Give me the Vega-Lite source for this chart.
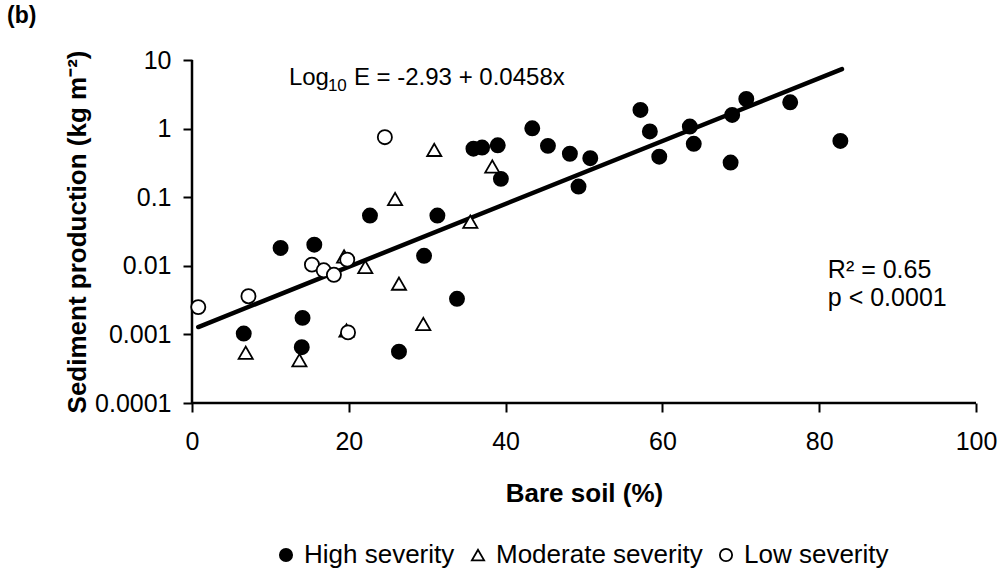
{
  "$schema": "https://vega.github.io/schema/vega-lite/v6.json",
  "autosize": "none",
  "width": 784,
  "height": 343,
  "padding": {"left": 192, "top": 60, "right": 30, "bottom": 166},
  "background": "white",
  "config": {
    "font": "Liberation Sans",
    "view": {"stroke": null},
    "axis": {
      "grid": false, "ticks": true,
      "tickColor": "black", "tickWidth": 2,
      "labelColor": "black", "titleColor": "black",
      "labelFont": "Liberation Sans", "titleFont": "Liberation Sans",
      "labelFlush": false, "labelOverlap": false
    }
  },
  "title": {"text": "(b)", "anchor": "start", "frame": "group", "fontSize": 23, "fontWeight": "bold", "color": "black", "dx": -185, "offset": 20},
  "datasets": {
    "points": [
      {"severity": "High severity", "bare": 6.6, "sed": 0.00103},
      {"severity": "High severity", "bare": 11.3, "sed": 0.0182},
      {"severity": "High severity", "bare": 15.6, "sed": 0.0203},
      {"severity": "High severity", "bare": 14.1, "sed": 0.00174},
      {"severity": "High severity", "bare": 14.0, "sed": 0.00065},
      {"severity": "High severity", "bare": 22.7, "sed": 0.054},
      {"severity": "High severity", "bare": 26.4, "sed": 0.00056},
      {"severity": "High severity", "bare": 29.6, "sed": 0.0140},
      {"severity": "High severity", "bare": 31.3, "sed": 0.054},
      {"severity": "High severity", "bare": 33.8, "sed": 0.0033},
      {"severity": "High severity", "bare": 35.9, "sed": 0.51},
      {"severity": "High severity", "bare": 37.0, "sed": 0.53},
      {"severity": "High severity", "bare": 39.0, "sed": 0.57},
      {"severity": "High severity", "bare": 39.4, "sed": 0.185},
      {"severity": "High severity", "bare": 43.4, "sed": 1.01},
      {"severity": "High severity", "bare": 45.4, "sed": 0.56},
      {"severity": "High severity", "bare": 48.2, "sed": 0.43},
      {"severity": "High severity", "bare": 49.3, "sed": 0.143},
      {"severity": "High severity", "bare": 50.8, "sed": 0.37},
      {"severity": "High severity", "bare": 57.2, "sed": 1.87},
      {"severity": "High severity", "bare": 58.4, "sed": 0.91},
      {"severity": "High severity", "bare": 59.6, "sed": 0.39},
      {"severity": "High severity", "bare": 63.5, "sed": 1.07},
      {"severity": "High severity", "bare": 64.0, "sed": 0.60},
      {"severity": "High severity", "bare": 68.7, "sed": 0.32},
      {"severity": "High severity", "bare": 68.9, "sed": 1.58},
      {"severity": "High severity", "bare": 70.7, "sed": 2.7},
      {"severity": "High severity", "bare": 76.3, "sed": 2.42},
      {"severity": "High severity", "bare": 82.7, "sed": 0.66},
      {"severity": "Moderate severity", "bare": 6.85, "sed": 0.00054},
      {"severity": "Moderate severity", "bare": 13.7, "sed": 0.00042},
      {"severity": "Moderate severity", "bare": 19.4, "sed": 0.0137},
      {"severity": "Moderate severity", "bare": 19.7, "sed": 0.00114},
      {"severity": "Moderate severity", "bare": 22.1, "sed": 0.0096},
      {"severity": "Moderate severity", "bare": 25.9, "sed": 0.094},
      {"severity": "Moderate severity", "bare": 26.4, "sed": 0.0055},
      {"severity": "Moderate severity", "bare": 29.5, "sed": 0.00142},
      {"severity": "Moderate severity", "bare": 30.9, "sed": 0.49},
      {"severity": "Moderate severity", "bare": 35.5, "sed": 0.044},
      {"severity": "Moderate severity", "bare": 38.3, "sed": 0.28},
      {"severity": "Low severity", "bare": 0.8, "sed": 0.0025},
      {"severity": "Low severity", "bare": 7.2, "sed": 0.0036},
      {"severity": "Low severity", "bare": 15.3, "sed": 0.0104},
      {"severity": "Low severity", "bare": 16.8, "sed": 0.0086},
      {"severity": "Low severity", "bare": 18.1, "sed": 0.0074},
      {"severity": "Low severity", "bare": 19.8, "sed": 0.0123},
      {"severity": "Low severity", "bare": 19.9, "sed": 0.00107},
      {"severity": "Low severity", "bare": 24.6, "sed": 0.75}
    ],
    "fit": [
      {"bare": 0.8, "sed": 0.00128},
      {"bare": 82.9, "sed": 7.36}
    ],
    "frame": [
      {"bare": 0, "bare2": 0, "sed": 0.0001, "sed2": 10},
      {"bare": 0, "bare2": 100, "sed": 0.0001, "sed2": 0.0001}
    ],
    "equation": [
      {"bare": 12.36, "sed": 4.33, "part": "log", "label": "Log"},
      {"bare": 12.36, "sed": 4.33, "part": "sub", "label": "10"},
      {"bare": 12.36, "sed": 4.33, "part": "rest", "label": "E = -2.93 + 0.0458x"}
    ],
    "stats": [
      {"bare": 81.1, "sed": 0.00671, "label": "R² = 0.65"},
      {"bare": 81.1, "sed": 0.00257, "label": "p < 0.0001"}
    ]
  },
  "layer": [
    {
      "data": {"name": "frame"},
      "mark": {"type": "rule", "color": "black", "strokeWidth": 2.5},
      "encoding": {
        "x": {"field": "bare", "type": "quantitative"},
        "x2": {"field": "bare2"},
        "y": {"field": "sed", "type": "quantitative"},
        "y2": {"field": "sed2"}
      }
    },
    {
      "data": {"name": "fit"},
      "mark": {"type": "line", "color": "black", "strokeWidth": 4.5, "strokeCap": "round"},
      "encoding": {
        "x": {"field": "bare", "type": "quantitative"},
        "y": {"field": "sed", "type": "quantitative"}
      }
    },
    {
      "data": {"name": "points"},
      "mark": {"type": "point", "filled": true, "stroke": "black", "strokeWidth": 1.8, "size": 200, "opacity": 1},
      "encoding": {
        "x": {
          "field": "bare", "type": "quantitative",
          "scale": {"domain": [0, 100], "nice": false, "zero": false},
          "axis": {"title": "Bare soil (%)", "values": [0, 20, 40, 60, 80, 100], "domain": false, "tickSize": 9, "labelFontSize": 25, "labelPadding": 17, "titleFontSize": 26, "titleFontWeight": "bold", "titlePadding": 26}
        },
        "y": {
          "field": "sed", "type": "quantitative",
          "scale": {"type": "log", "domain": [0.0001, 10], "nice": false},
          "axis": {"title": "Sediment production (kg m⁻²)", "values": [0.0001, 0.001, 0.01, 0.1, 1, 10], "format": "~g", "domain": false, "tickSize": 9, "labelFontSize": 25, "labelPadding": 12, "titleFontSize": 26, "titleFontWeight": "bold", "titlePadding": 4}
        },
        "shape": {
          "field": "severity", "type": "nominal",
          "scale": {"domain": ["High severity", "Moderate severity", "Low severity"], "range": ["circle", "triangle-up", "circle"]},
          "legend": {"title": null, "orient": "none", "direction": "horizontal", "legendX": 81, "legendY": 482, "labelFontSize": 26, "labelColor": "black", "labelLimit": 400, "symbolSize": 150, "symbolStrokeWidth": 1.8, "columnPadding": 10, "labelOffset": 5}
        },
        "fill": {
          "field": "severity", "type": "nominal",
          "scale": {"domain": ["High severity", "Moderate severity", "Low severity"], "range": ["black", "white", "white"]},
          "legend": {"title": null, "orient": "none", "direction": "horizontal", "legendX": 81, "legendY": 482, "labelFontSize": 26, "labelColor": "black", "labelLimit": 400, "symbolSize": 150, "symbolStrokeWidth": 1.8, "columnPadding": 10, "labelOffset": 5}
        }
      }
    },
    {
      "data": {"name": "equation"},
      "transform": [{"filter": "datum.part === 'log'"}],
      "mark": {"type": "text", "align": "left", "baseline": "alphabetic", "fontSize": 24, "color": "black"},
      "encoding": {
        "x": {"field": "bare", "type": "quantitative"},
        "y": {"field": "sed", "type": "quantitative"},
        "text": {"field": "label"}
      }
    },
    {
      "data": {"name": "equation"},
      "transform": [{"filter": "datum.part === 'sub'"}],
      "mark": {"type": "text", "align": "left", "baseline": "alphabetic", "fontSize": 17, "dx": 39, "dy": 6, "color": "black"},
      "encoding": {
        "x": {"field": "bare", "type": "quantitative"},
        "y": {"field": "sed", "type": "quantitative"},
        "text": {"field": "label"}
      }
    },
    {
      "data": {"name": "equation"},
      "transform": [{"filter": "datum.part === 'rest'"}],
      "mark": {"type": "text", "align": "left", "baseline": "alphabetic", "fontSize": 24, "dx": 65, "color": "black"},
      "encoding": {
        "x": {"field": "bare", "type": "quantitative"},
        "y": {"field": "sed", "type": "quantitative"},
        "text": {"field": "label"}
      }
    },
    {
      "data": {"name": "stats"},
      "mark": {"type": "text", "align": "left", "baseline": "alphabetic", "fontSize": 25, "color": "black"},
      "encoding": {
        "x": {"field": "bare", "type": "quantitative"},
        "y": {"field": "sed", "type": "quantitative"},
        "text": {"field": "label"}
      }
    }
  ]
}
